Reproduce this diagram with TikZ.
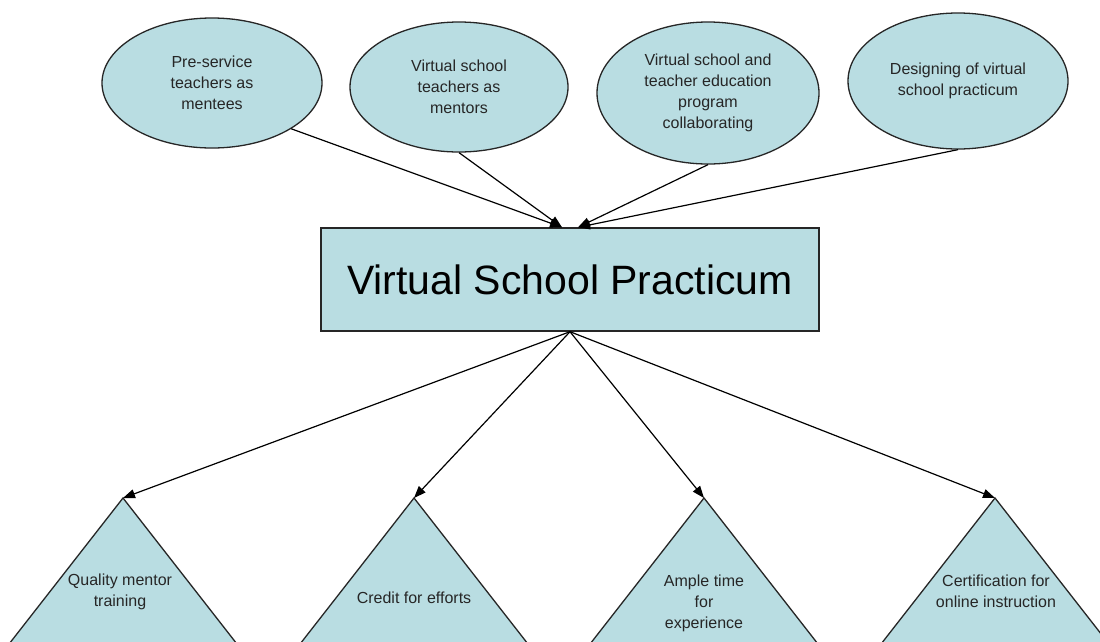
\documentclass[tikz,border=0pt]{standalone}
\usepackage{fontspec}
\setmainfont{Liberation Sans}
\usetikzlibrary{shapes.geometric, arrows.meta}
\definecolor{paleblue}{RGB}{185,221,226}
\definecolor{inkgray}{RGB}{38,38,38}
\tikzstyle{topic} = [ellipse, draw=inkgray, line width=1.3pt, fill=paleblue, minimum width=220pt, minimum height=130pt, inner sep=0pt, align=center, text=inkgray, font=\fontsize{16}{21}\selectfont]
\tikzstyle{hub} = [rectangle, draw=inkgray, line width=1.4pt, fill=paleblue, minimum width=498pt, minimum height=103pt, text=black, font=\fontsize{41}{48}\selectfont]
\tikzstyle{peak} = [draw=inkgray, line width=1.3pt, fill=paleblue]
\tikzstyle{caption} = [align=center, inner sep=0pt, text=inkgray, font=\fontsize{16}{21}\selectfont]
\tikzstyle{arrow} = [line width=1.2pt, black, -{Triangle[length=12pt,width=9pt]}]

\begin{document}
\begin{tikzpicture}[x=1pt, y=-1pt]
\useasboundingbox (0,0) rectangle (1100,641);
\clip (0,0) rectangle (1100,641);
\fill[white] (0,0) rectangle (1100,641);
% ellipses on top
\node(mentees)[topic] at (212,83) {Pre-service\\teachers as\\mentees};
\node(mentors)[topic,minimum width=218pt] at (459,87) {Virtual school\\teachers as\\mentors};
\node(collab)[topic,minimum width=222pt,minimum height=142pt] at (708,93) {Virtual school and\\teacher education\\program\\collaborating};
\node(design)[topic,minimum height=136pt] at (958,81) {Designing of virtual\\school practicum};
% central box
\node(vsp)[hub] at (570,279.5) {Virtual School Practicum};
\coordinate(inL) at ([xshift=-8pt]vsp.north);
\coordinate(inR) at ([xshift=8pt]vsp.north);
% triangles at the bottom
\coordinate(training) at (123,498);
\coordinate(credit) at (414,498);
\coordinate(time) at (704,498);
\coordinate(cert) at (995,498);
\draw[peak](training) -- ++(-160,205) -- ++(320,0) -- cycle;
\draw[peak](credit) -- ++(-160,205) -- ++(320,0) -- cycle;
\draw[peak](time) -- ++(-160,205) -- ++(320,0) -- cycle;
\draw[peak](cert) -- ++(-160,205) -- ++(320,0) -- cycle;
\node(trainingtxt)[caption] at (120,592) {Quality mentor\\training};
\node(credittxt)[caption] at (414,598) {Credit for efforts};
\node(timetxt)[caption] at (704,603) {Ample time\\for\\experience};
\node(certtxt)[caption] at (996,591) {Certification for\\online instruction};
% arrows
\draw[arrow](mentees.-30)--(inL);
\draw[arrow](mentors.south)--(inL);
\draw[arrow](collab.south)--(inR);
\draw[arrow](design.south)--(inR);
\draw[arrow](vsp.south)--(training);
\draw[arrow](vsp.south)--(credit);
\draw[arrow](vsp.south)--(time);
\draw[arrow](vsp.south)--(cert);
\end{tikzpicture}
\end{document}
